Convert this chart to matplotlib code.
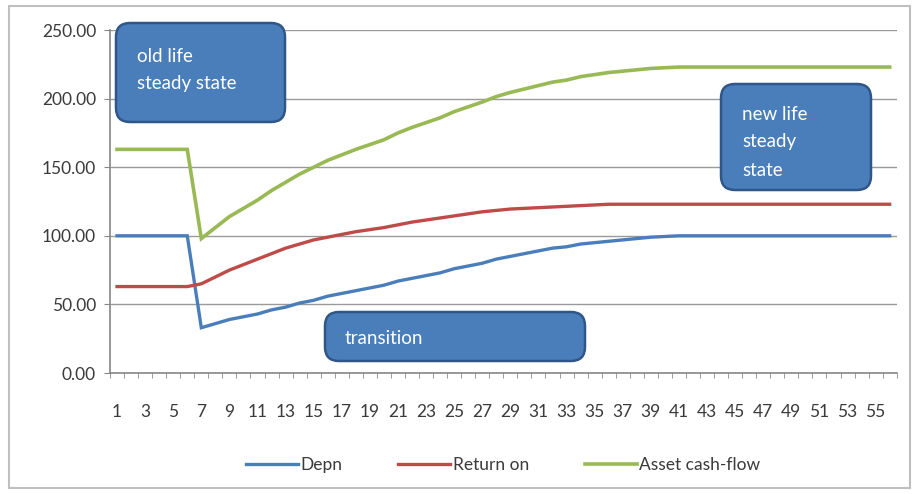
import matplotlib.pyplot as plt
from matplotlib.patches import FancyBboxPatch, Rectangle
from matplotlib.transforms import IdentityTransform

# Periods 1..56
periods = list(range(1, 57))

depn = [100, 100, 100, 100, 100, 100,
        33, 36, 39, 41, 43, 46, 48, 51, 53, 56,
        58, 60, 62, 64, 67, 69, 71, 73, 76, 78,
        80, 83, 85, 87, 89, 91, 92, 94, 95, 96,
        97, 98, 99, 99.5, 100, 100, 100, 100, 100, 100,
        100, 100, 100, 100, 100, 100, 100, 100, 100, 100]

return_on = [63, 63, 63, 63, 63, 63,
             65, 70, 75, 79, 83, 87, 91, 94, 97, 99,
             101, 103, 104.5, 106, 108, 110, 111.5, 113, 114.5, 116,
             117.5, 118.5, 119.5, 120, 120.5, 121, 121.5, 122, 122.5, 123,
             123, 123, 123, 123, 123, 123, 123, 123, 123, 123,
             123, 123, 123, 123, 123, 123, 123, 123, 123, 123]

asset_cash_flow = [163, 163, 163, 163, 163, 163,
                   98, 106, 114, 120, 126, 133, 139, 145, 150, 155,
                   159, 163, 166.5, 170, 175, 179, 182.5, 186, 190.5, 194,
                   197.5, 201.5, 204.5, 207, 209.5, 212, 213.5, 216, 217.5, 219,
                   220, 221, 222, 222.5, 223, 223, 223, 223, 223, 223,
                   223, 223, 223, 223, 223, 223, 223, 223, 223, 223]

series_names = ['Depn', 'Return on', 'Asset cash-flow']
series_colors = ['#4A7EBB', '#BE4B48', '#98B954']

plt.rcParams['font.family'] = ['Lato', 'DejaVu Sans']

W, H = 916, 494
fig = plt.figure(figsize=(W / 100, H / 100), dpi=100)
fig.patch.set_facecolor('white')

# outer chart border
fig.add_artist(Rectangle((9 / W, 6 / H), 901 / W, 482 / H,
                         transform=fig.transFigure, fill=False,
                         edgecolor='#BFBFBF', linewidth=1.5))

ax = fig.add_axes([110 / W, 1 - 373 / H, 786.7 / W, 343 / H])

for values, name, color, lw in zip([depn, return_on, asset_cash_flow],
                                   series_names, series_colors,
                                   [2.4, 2.4, 2.6]):
    ax.plot(periods, values, color=color, linewidth=lw, label=name,
            solid_joinstyle='miter', zorder=3)

ax.set_xlim(0.5, 56.5)
ax.set_ylim(0, 250)
ax.set_yticks(range(0, 251, 50))
ax.set_yticklabels([f'{v:.2f}' for v in range(0, 251, 50)])
ax.set_xticks(periods[::2])
ax.set_xticks([p + 0.5 for p in range(0, 57)], minor=True)
ax.tick_params(axis='x', which='major', length=0, pad=22,
               labelsize=12.5, labelcolor='#3A3A3A')
ax.tick_params(axis='x', which='minor', length=3.5, color='#868686')
ax.tick_params(axis='y', length=4, color='#868686', pad=6,
               labelsize=12.5, labelcolor='#3A3A3A')

ax.grid(axis='y', color='#9A9A9A', linewidth=1)
ax.set_axisbelow(True)
for side in ['top', 'right']:
    ax.spines[side].set_visible(False)
for side in ['left', 'bottom']:
    ax.spines[side].set_color('#868686')
    ax.spines[side].set_linewidth(1.2)

ax.legend(loc='upper center', bbox_to_anchor=(0.5, -0.2), ncol=3,
          frameon=False, fontsize=12.5, handlelength=3.0, handletextpad=0.15,
          columnspacing=3.2, labelcolor='#3A3A3A')


def note_box(x0, y0, x1, y1, lines, tx, ty, spacing):
    """Rounded blue call-out box, placed in image pixel coordinates."""
    box = FancyBboxPatch((x0, H - y1), x1 - x0, y1 - y0,
                         boxstyle='round,pad=0,rounding_size=14',
                         transform=IdentityTransform(),
                         facecolor='#4A7EBB', edgecolor='#2F5689',
                         linewidth=1.8, zorder=5)
    fig.add_artist(box)
    for i, line in enumerate(lines):
        fig.text(tx / W, 1 - (ty + i * spacing) / H, line, color='white',
                 fontsize=13.5, va='center', ha='left', zorder=6)


note_box(116, 23, 285, 122, ['old life', 'steady state'], 137, 56, 27)
note_box(721, 84, 871, 190, ['new life', 'steady', 'state'], 742, 114, 28)
note_box(325, 312, 585, 361, ['transition'], 345, 338, 0)

fig.savefig('out.png', dpi=100)
